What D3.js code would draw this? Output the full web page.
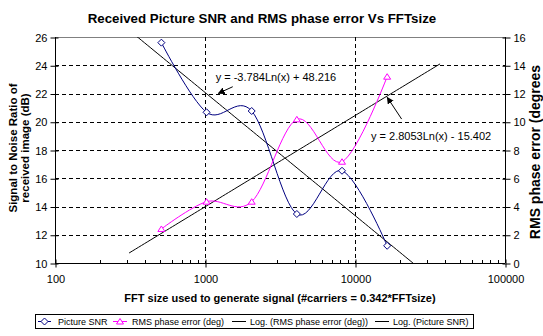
<!DOCTYPE html>
<html><head><meta charset="utf-8">
<script src="https://cdn.jsdelivr.net/npm/d3@7"></script>
<style>
html,body{margin:0;padding:0;background:#fff;}
text{font-family:"Liberation Sans",Arial,sans-serif;}
</style></head>
<body><svg id="c" width="543" height="336"></svg>
<script>
// ---- data ----
const fftSizes = [512, 1024, 2048, 4096, 8192, 16384];
const snrValues = [25.6, 20.67, 20.76, 13.47, 16.53, 11.22];
const phaseErrValues = [2.41, 4.34, 4.34, 10.17, 7.17, 13.19];
const xTicks = [100, 1000, 10000, 100000];
const yLeftTicks = [10, 12, 14, 16, 18, 20, 22, 24, 26];
const yRightTicks = [0, 2, 4, 6, 8, 10, 12, 14, 16];
const snrTrend = {a: -3.784, b: 48.216, label: "y = -3.784Ln(x) + 48.216"};
const phaseTrend = {a: 2.8053, b: -15.402, label: "y = 2.8053Ln(x) - 15.402"};
const trendRange = [312, 36900];
const title = "Received Picture SNR and RMS phase error Vs FFTsize";
const xTitle = "FFT size used to generate signal (#carriers = 0.342*FFTsize)";
const yLeftTitle = ["Signal to Noise Ratio of", "received image (dB)"];
const yRightTitle = "RMS phase error (degrees";
const legendLabels = ["Picture SNR", "RMS phase error (deg)", "Log. (RMS phase error (deg))", "Log. (Picture SNR)"];

// ---- layout ----
const svg = d3.select("#c");
svg.append("rect").attr("width",543).attr("height",336).attr("fill","#fff");
const L = 55, R = 505, T = 37, B = 263;
const x = d3.scaleLog().domain([100, 100000]).range([L, R]);
const yL = d3.scaleLinear().domain([10, 26]).range([B, T]);
const yR = d3.scaleLinear().domain([0, 16]).range([B, T]);

svg.append("defs").append("clipPath").attr("id","clip")
  .append("rect").attr("x",L).attr("y",T).attr("width",R-L).attr("height",B-T);

// title
svg.append("text").attr("x",262).attr("y",23).attr("text-anchor","middle")
  .attr("font-size","13.3px").attr("font-weight","bold").text(title);

// top border
svg.append("line").attr("x1",L).attr("x2",R).attr("y1",T+0.5).attr("y2",T+0.5)
  .attr("stroke","#808080");

// gridlines
const grid = svg.append("g").attr("stroke","#000").attr("stroke-dasharray","4,3").attr("stroke-width",1);
yLeftTicks.filter(v => v > 10 && v < 26).forEach(v => {
  grid.append("line").attr("x1",L).attr("x2",R).attr("y1",Math.round(yL(v))+0.5).attr("y2",Math.round(yL(v))+0.5);
});
xTicks.filter(v => v > 100 && v < 100000).forEach(v => {
  grid.append("line").attr("x1",Math.round(x(v))+0.5).attr("x2",Math.round(x(v))+0.5).attr("y1",T).attr("y2",B);
});

// axes
const axL = d3.axisLeft(yL).tickValues(yLeftTicks).tickSize(5).tickFormat(d3.format("d"));
const gL = svg.append("g").attr("transform",`translate(${L+0.5},0.5)`).call(axL);
const axR = d3.axisRight(yR).tickValues(yRightTicks).tickSize(5).tickFormat(d3.format("d"));
const gR = svg.append("g").attr("transform",`translate(${R+0.5},0.5)`).call(axR);
const axB = d3.axisBottom(x).tickValues(xTicks).tickSize(4).tickFormat(d3.format("d"));
const gB = svg.append("g").attr("transform",`translate(0.5,${B+0.5})`).call(axB);
[gL,gR,gB].forEach(g => {
  g.select(".domain").attr("stroke","#000");
  g.selectAll(".tick line").attr("stroke","#000");
  g.selectAll("text").attr("font-size","11px").attr("font-family","Liberation Sans, Arial, sans-serif").attr("fill","#000");
});
gL.select(".domain").attr("d",`M0,${B-0.5}V${T-0.5}`);
gR.select(".domain").attr("d",`M0,${B-0.5}V${T-0.5}`);
gB.select(".domain").attr("d",`M${L-0.5},0H${R-0.5}`);
gL.selectAll(".tick text").attr("x",-8);
gR.selectAll(".tick text").attr("x",8);
gB.selectAll(".tick text").attr("y",12);
gL.selectAll(".tick line").attr("x1",3);
gR.selectAll(".tick line").attr("x1",-3);
gB.selectAll(".tick line").attr("y1",-4);
// minor log ticks
const minor = [];
for (let d = 100; d < 100000; d *= 10) for (let k = 2; k <= 9; k++) minor.push(d*k);
svg.append("g").selectAll("line").data(minor).join("line")
  .attr("x1",d => Math.round(x(d))+0.5).attr("x2",d => Math.round(x(d))+0.5)
  .attr("y1",B-3).attr("y2",B).attr("stroke","#000");

// axis titles
svg.append("text").attr("x",280).attr("y",302).attr("text-anchor","middle")
  .attr("font-size","11px").attr("font-weight","bold").text(xTitle);
yLeftTitle.forEach((t,i) => {
  svg.append("text").attr("transform",`translate(${13+i*12},148) rotate(-90)`)
    .attr("text-anchor","middle").attr("dy","0.35em")
    .attr("font-size","11.5px").attr("font-weight","bold").text(t);
});
svg.append("text").attr("transform",`translate(535,152) rotate(-90)`)
  .attr("text-anchor","middle").attr("dy","0.35em")
  .attr("font-size","14px").attr("font-weight","bold").text(yRightTitle);

// trendlines
const plot = svg.append("g").attr("clip-path","url(#clip)");
const trendXs = d3.range(0, 101).map(i => Math.exp(Math.log(trendRange[0]) + i/100*(Math.log(trendRange[1]) - Math.log(trendRange[0]))));
const trendLine = (tr, ys) => d3.line().x(d => x(d)).y(d => ys(tr.a*Math.log(d)+tr.b));
plot.append("path").datum(trendXs).attr("d",trendLine(phaseTrend,yR)).attr("fill","none").attr("stroke","#000").attr("stroke-width",1);
plot.append("path").datum(trendXs).attr("d",trendLine(snrTrend,yL)).attr("fill","none").attr("stroke","#000").attr("stroke-width",1);

// series
const curve = d3.curveCardinal.tension(0);
const snrData = fftSizes.map((f,i) => [f, snrValues[i]]);
const phData = fftSizes.map((f,i) => [f, phaseErrValues[i]]);
plot.append("path").datum(snrData).attr("d",d3.line().x(d=>x(d[0])).y(d=>yL(d[1])).curve(curve))
  .attr("fill","none").attr("stroke","#000080").attr("stroke-width",1);
plot.append("path").datum(phData).attr("d",d3.line().x(d=>x(d[0])).y(d=>yR(d[1])).curve(curve))
  .attr("fill","none").attr("stroke","#FF00FF").attr("stroke-width",1);

const diamond = "M0,-3.5L3.5,0L0,3.5L-3.5,0Z";
const triangle = "M0,-3L3.5,2.5L-3.5,2.5Z";
svg.append("g").selectAll("path").data(snrData).join("path")
  .attr("transform",d=>`translate(${x(d[0])},${yL(d[1])})`).attr("d",diamond)
  .attr("fill","#fff").attr("stroke","#000080");
svg.append("g").selectAll("path").data(phData).join("path")
  .attr("transform",d=>`translate(${x(d[0])},${yR(d[1])})`).attr("d",triangle)
  .attr("fill","#fff").attr("stroke","#FF00FF");

// trendline labels with arrows
svg.append("defs").append("marker").attr("id","ah").attr("viewBox","0 0 10 10")
  .attr("refX",9).attr("refY",5).attr("markerWidth",7).attr("markerHeight",7)
  .attr("markerUnits","userSpaceOnUse").attr("orient","auto")
  .append("path").attr("d","M0,0L10,5L0,10Z").attr("fill","#000");
svg.append("text").attr("x",x(1178)).attr("y",yL(22.85)).attr("font-size","11px").text(snrTrend.label);
svg.append("line").attr("x1",x(1531)).attr("y1",yL(22.48)).attr("x2",x(1227)).attr("y2",yL(22.01))
  .attr("stroke","#000").attr("marker-end","url(#ah)");
svg.append("text").attr("x",x(12790)).attr("y",yR(8.71)).attr("font-size","11px").text(phaseTrend.label);
svg.append("line").attr("x1",x(20460)).attr("y1",yR(10.19)).attr("x2",x(16400)).attr("y2",yR(11.73))
  .attr("stroke","#000").attr("marker-end","url(#ah)");

// legend
const lg = svg.append("g");
lg.append("rect").attr("x",35.5).attr("y",314.5).attr("width",438).attr("height",14)
  .attr("fill","#fff").attr("stroke","#000");
const legItems = [
  {x0:38, x1:51, tx:58, color:"#000080", mark:diamond},
  {x0:113, x1:127, tx:132, color:"#FF00FF", mark:triangle},
  {x0:232, x1:246, tx:250, color:"#000", mark:null},
  {x0:375, x1:389, tx:393, color:"#000", mark:null}
];
legItems.forEach((it,i) => {
  lg.append("line").attr("x1",it.x0).attr("x2",it.x1).attr("y1",321.5).attr("y2",321.5).attr("stroke",it.color);
  if (it.mark) lg.append("path").attr("transform",`translate(${(it.x0+it.x1)/2},321.5)`).attr("d",it.mark)
    .attr("fill","#fff").attr("stroke",it.color);
  lg.append("text").attr("x",it.tx).attr("y",325).attr("font-size","9px").text(legendLabels[i]);
});
</script></body></html>
